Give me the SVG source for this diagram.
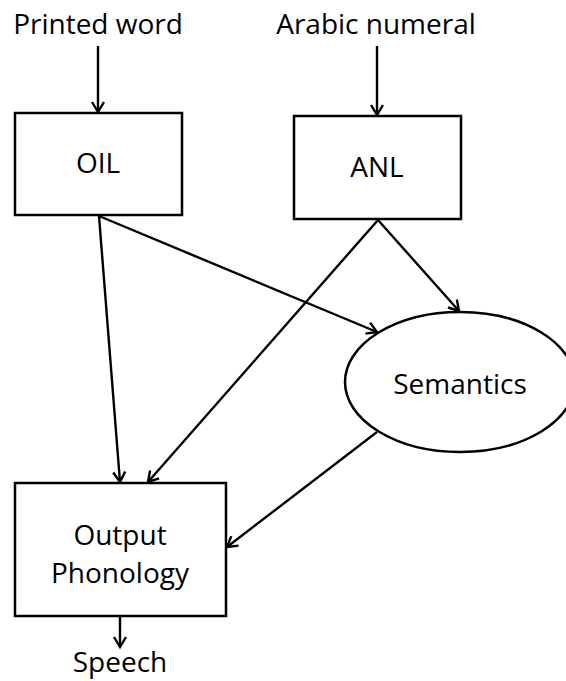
<svg xmlns="http://www.w3.org/2000/svg" width="566" height="681" viewBox="0 0 566 681">
  <style>
    .box { fill: #ffffff; stroke: #000000; stroke-width: 2.5; }
    .lbl { font-family: "Open Sans", "Liberation Sans", sans-serif; font-size: 28px; fill: #000000; text-anchor: middle; }
    .edge { fill: none; stroke: #000000; stroke-width: 2.4; marker-end: url(#arrow); }
  </style>
  <defs>
    <marker id="arrow" markerUnits="userSpaceOnUse" markerWidth="16" markerHeight="16" viewBox="-12 -8 14 16" refX="0" refY="0" orient="auto">
      <path d="M-10,-6 L0,0 L-10,6" fill="none" stroke="#000000" stroke-width="2.4"/>
    </marker>
  </defs>
  <rect width="566" height="681" fill="#ffffff"/>

  <!-- input and output labels -->
  <g id="printed-word"><text class="lbl" x="98" y="34">Printed word</text></g>
  <g id="arabic-numeral"><text class="lbl" x="376" y="34">Arabic numeral</text></g>
  <g id="speech"><text class="lbl" x="120" y="672">Speech</text></g>

  <!-- processing nodes -->
  <g id="oil">
    <rect class="box" x="15" y="113" width="167" height="102"/>
    <text class="lbl" x="98" y="173">OIL</text>
  </g>
  <g id="anl">
    <rect class="box" x="294" y="116" width="167" height="103"/>
    <text class="lbl" x="377" y="177">ANL</text>
  </g>
  <g id="semantics">
    <ellipse class="box" cx="460" cy="382" rx="115" ry="70"/>
    <text class="lbl" x="460" y="394">Semantics</text>
  </g>
  <g id="output-phonology">
    <rect class="box" x="15" y="483" width="211" height="133"/>
    <text class="lbl" x="120" y="545">Output</text>
    <text class="lbl" x="120" y="583">Phonology</text>
  </g>

  <!-- connectors -->
  <g id="connectors">
    <line class="edge" x1="98" y1="46" x2="98" y2="112"/>
    <line class="edge" x1="377" y1="46" x2="377" y2="115"/>
    <line class="edge" x1="99" y1="216" x2="120" y2="482"/>
    <line class="edge" x1="99" y1="216" x2="377" y2="332"/>
    <line class="edge" x1="378" y1="220" x2="459" y2="311"/>
    <line class="edge" x1="378" y1="220" x2="148" y2="482"/>
    <line class="edge" x1="377" y1="432" x2="227" y2="547"/>
    <line class="edge" x1="120" y1="617" x2="120" y2="647"/>
  </g>
</svg>
